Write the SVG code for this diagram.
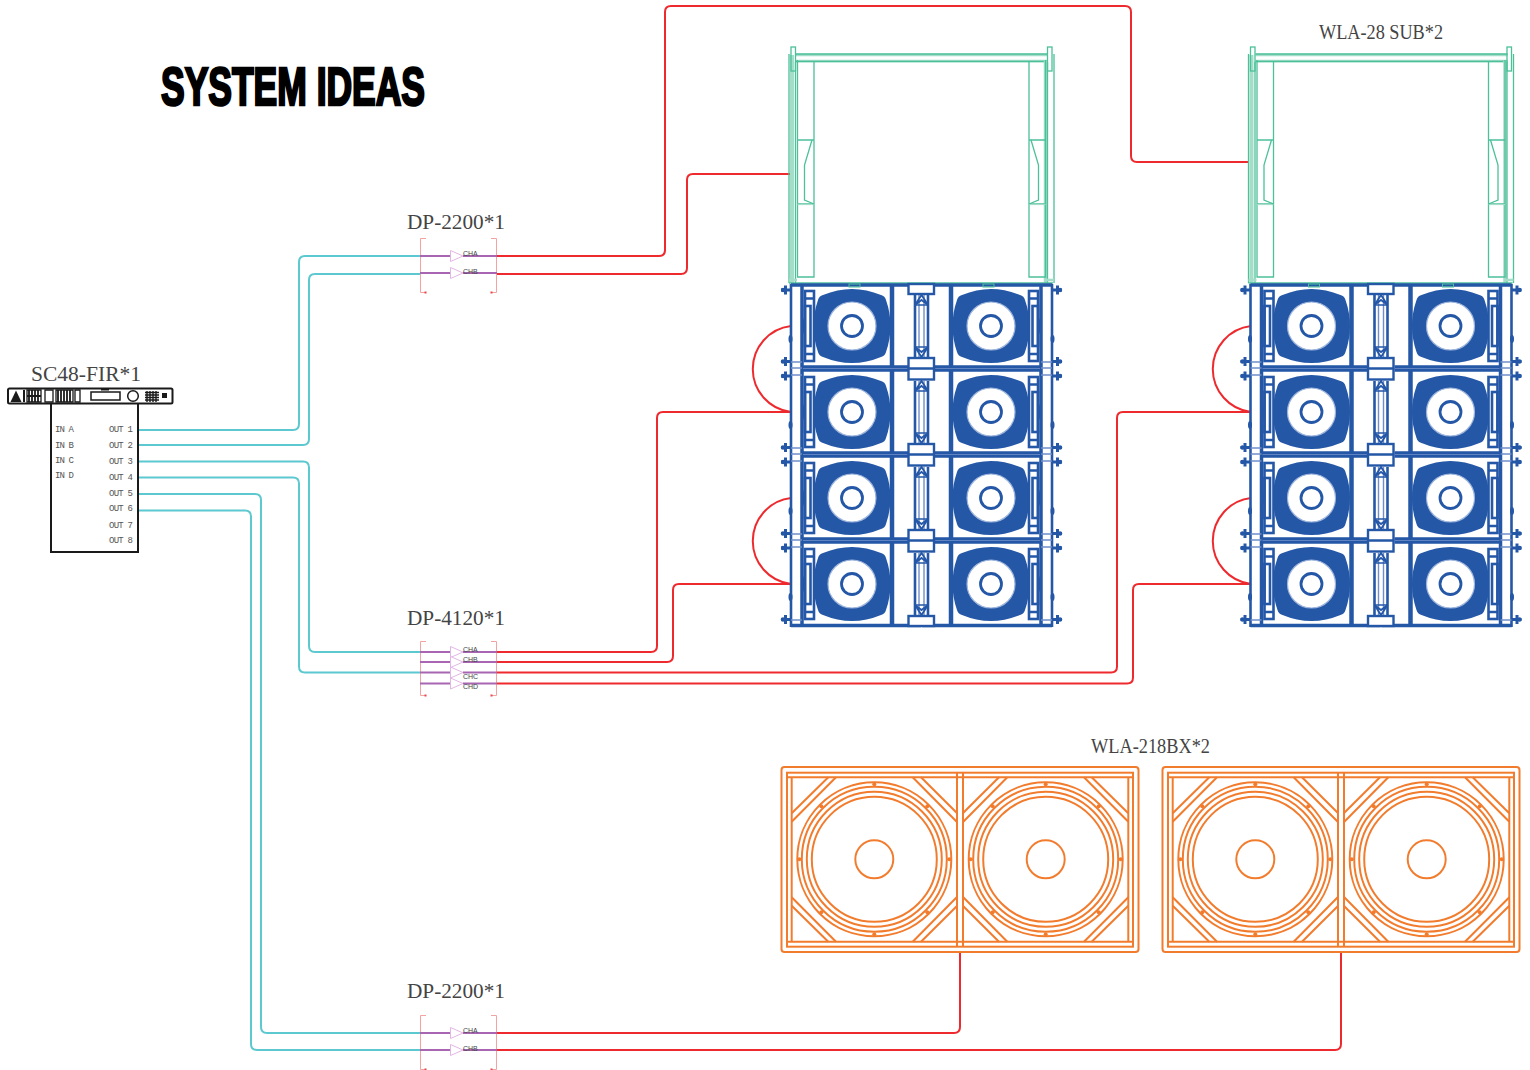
<svg xmlns="http://www.w3.org/2000/svg" xmlns:xlink="http://www.w3.org/1999/xlink" width="1530" height="1070" viewBox="0 0 1530 1070">
<style>
text{font-family:"Liberation Mono","DejaVu Sans Mono",monospace;fill:#3a3a3a}
.lab{font-family:"Liberation Serif","Times New Roman",serif;font-size:20px;fill:#444}
.port{font-size:9px;fill:#555}
.ch{font-family:"Liberation Sans",Arial,sans-serif;font-size:7px;fill:#444}
.title{font-family:"Liberation Sans",Arial,sans-serif;font-weight:700;font-size:53px;fill:#000;stroke:#000;stroke-width:2.6px}
.cy{fill:none;stroke:#5cc8cf;stroke-width:2}
.rd{fill:none;stroke:#ee2a2e;stroke-width:2}
.pu{fill:none;stroke:#a866b2;stroke-width:2}
.tri{fill:#fff;stroke:#e2b6e4;stroke-width:1}
.br{fill:none;stroke:#f4a3a3;stroke-width:1}
.dot{fill:#e8484a}
.g{fill:none;stroke:#4cc09a;stroke-width:1.3}
.gp{fill:none;stroke:#a6ddc9;stroke-width:2.6}
.b{fill:none;stroke:#2557a7;stroke-width:2.6}
.bt{fill:none;stroke:#2557a7;stroke-width:4.5}
.bp{fill:none;stroke:#6f8fc8;stroke-width:1.4}
.bf{fill:#2557a7}
.o{fill:none;stroke:#f27c2e;stroke-width:2}
.of{fill:#f27c2e}
.kf{fill:#1a1a1a}
</style>
<defs>
<g id="amp-bracket">
<path class="br" d="M426 0.5H420.500V54.500H426M491 0.5H496.500V54.500H491"/>
<rect class="dot" x="424.500" y="53.500" width="2" height="2"/>
<rect class="dot" x="490.500" y="53.500" width="2" height="2"/>
</g>
<g id="ch">
<path class="pu" d="M420 0H451M463 0H497"/>
<path class="tri" d="M450.500 -5.500L463 0L450.500 5.500Z"/>
</g>
<g id="sub-half">
<rect class="g" x="791" y="47" width="4.500" height="24"/>
<path class="g" d="M789 54V283M795.500 62V283M797.500 60V277H814V61"/>
<path class="g" d="M797.500 140H814M797.500 204H814"/>
<path class="gp" d="M797.500 204.500H814" style="stroke-width:1.200"/>
<path class="g" d="M812 140L804.500 165V200L814 204"/>
<path class="gp" d="M789 280H797"/>
</g>
<g id="sub">
<path class="gp" d="M796 55H1048M796 61H1048"/>
<path class="g" d="M796 54H1048M796 61.500H1048"/>
<path class="gp" d="M792 55V283" style="stroke-width:4"/>
<path class="gp" d="M1045.500 61V283" style="stroke-width:3.500"/>
<use xlink:href="#sub-half"/>
<use xlink:href="#sub-half" transform="matrix(-1 0 0 1 1843 0)"/>
<path class="g" d="M789 283H1053"/>
</g>
<g id="row">
<path class="bf" d="M-29 -31Q0 -43 29 -31Q33 -30 34 -26Q43 0 34 26Q33 30 29 31Q0 43 -29 31Q-33 30 -34 26Q-43 0 -34 -26Q-33 -30 -29 -31Z" transform="translate(852 326)"/>
<circle cx="852" cy="326" r="24" fill="#fff" stroke="#9db5dc" stroke-width="1.200"/>
<circle cx="852" cy="326" r="10.500" fill="#fff" stroke="#2557a7" stroke-width="2.800"/>
<rect class="b" x="805" y="291" width="9" height="70"/>
<rect class="b" x="805" y="306" width="5.500" height="40"/>
<path class="b" d="M805 298.500H814M805 354H814"/>
<ellipse class="bf" cx="790.500" cy="339" rx="2" ry="4"/>
<ellipse class="bf" cx="803" cy="326" rx="1.200" ry="8"/>
</g>
<g id="pin">
<path class="bt" style="stroke-width:3" d="M781 0H791M785.500 -4.500V4.500"/>
<circle class="bf" cx="783" cy="0" r="2.200"/>
</g>
<g id="blue-half">
<use xlink:href="#row"/>
<use xlink:href="#row" y="86"/>
<use xlink:href="#row" y="172"/>
<use xlink:href="#row" y="258"/>
<path class="b" d="M791 284V627"/>
<path class="bt" style="stroke-width:3.500" d="M802 284V627"/>
<path class="bt" d="M892 284V627"/>
<use xlink:href="#pin" y="290"/>
<use xlink:href="#pin" y="361.500"/>
<use xlink:href="#pin" y="376"/>
<use xlink:href="#pin" y="447.500"/>
<use xlink:href="#pin" y="462"/>
<use xlink:href="#pin" y="533.500"/>
<use xlink:href="#pin" y="548"/>
<use xlink:href="#pin" y="619.500"/>
<path class="bt" style="stroke-width:6.500" d="M802 368.500H908M802 454.500H908M802 540.500H908"/>
<path class="bp" d="M803 368.500H908M803 454.500H908M803 540.500H908" style="stroke-width:.8"/>
<path class="bt" style="stroke-width:3.500" d="M791 285H921M791 625.500H921"/>
<path class="bp" d="M791 362H802M791 368H802M791 375H802M791 448H802M791 454H802M791 461H802M791 534H802M791 540H802M791 547H802M791 620H802"/>
<rect x="849" y="284" width="11" height="3" fill="none" stroke="#4cc09a" stroke-width="1"/>
</g>
<g id="rail">
<path class="b" d="M915 1V63M928 1V63"/>
<path class="bp" d="M919 1V63M924 1V63"/>
<path class="b" d="M915 11L921.500 1L928 11L921.500 6ZM915 53L921.500 63L928 53L921.500 58Z" style="stroke-width:1.800"/>
<path class="b" d="M915 11H928M915 53H928" style="stroke-width:1.500"/>
</g>
<g id="blue">
<use xlink:href="#blue-half"/>
<use xlink:href="#blue-half" transform="matrix(-1 0 0 1 1843 0)"/>
<use xlink:href="#rail" y="294"/>
<use xlink:href="#rail" y="380"/>
<use xlink:href="#rail" y="466"/>
<use xlink:href="#rail" y="552"/>
<rect x="908.500" y="284" width="25.500" height="10" fill="#fff" stroke="#2557a7" stroke-width="2.400"/>
<rect x="908.500" y="358" width="25.500" height="21.500" fill="#fff" stroke="#2557a7" stroke-width="2.400"/>
<rect x="908.500" y="444" width="25.500" height="21.500" fill="#fff" stroke="#2557a7" stroke-width="2.400"/>
<rect x="908.500" y="530" width="25.500" height="21.500" fill="#fff" stroke="#2557a7" stroke-width="2.400"/>
<rect x="908.500" y="616" width="25.500" height="10" fill="#fff" stroke="#2557a7" stroke-width="2.400"/>
<path class="b" d="M908 368.500H934M908 454.500H934M908 540.500H934"/>
</g>
<g id="bx-half">
<circle class="o" cx="874.300" cy="859.300" r="77"/>
<circle class="o" cx="874.300" cy="859.300" r="72.500"/>
<circle class="o" cx="874.300" cy="859.300" r="67.500"/>
<circle class="o" cx="874.300" cy="859.300" r="62.500"/>
<circle class="o" cx="874.300" cy="859.300" r="19"/>
<circle class="of" cx="874.300" cy="784.300" r="2"/>
<circle class="of" cx="874.300" cy="934.300" r="2"/>
<circle class="of" cx="799.300" cy="859.300" r="2"/>
<circle class="of" cx="949.300" cy="859.300" r="2"/>
<circle class="of" cx="821.300" cy="806.300" r="2"/>
<circle class="of" cx="927.300" cy="806.300" r="2"/>
<circle class="of" cx="821.300" cy="912.300" r="2"/>
<circle class="of" cx="927.300" cy="912.300" r="2"/>
<path class="o" d="M791.700 813.300L828.300 777.300M791.700 821.700L836 777.300M912.700 777.300L956.700 821.700M921 777.300L956.700 812.700"/>
<path class="o" d="M791.700 905.700L828.300 941.700M791.700 897.300L836 941.700M912.700 941.700L956.700 897.300M921 941.700L956.700 906.300"/>
</g>
<g id="bx">
<rect class="o" x="781.500" y="767" width="357" height="185" rx="3"/>
<rect class="o" x="787" y="772.700" width="346" height="174"/>
<path class="o" d="M787 777.300H1133M787 941.700H1133M791.700 777.300V941.700M1128.300 777.300V941.700M957 772.700V946.700M963 772.700V946.700"/>
<use xlink:href="#bx-half"/>
<use xlink:href="#bx-half" transform="matrix(-1 0 0 1 1920 0)"/>
</g>
</defs>

<rect width="1530" height="1070" fill="#fff"/>
<text class="title" x="161" y="105" textLength="264" lengthAdjust="spacingAndGlyphs">SYSTEM IDEAS</text>

<g id="connectors">
<path class="cy" d="M138 430H293Q299 430 299 424V262Q299 256 305 256H420"/>
<path class="cy" d="M138 445H303Q309 445 309 439V280Q309 274 315 274H420"/>
<path class="cy" d="M138 461.500H303Q309 461.500 309 467.500V646Q309 652 315 652H420"/>
<path class="cy" d="M138 477.500H293Q299 477.500 299 483.500V666.500Q299 672.500 305 672.500H420"/>
<path class="cy" d="M138 494H255Q261 494 261 500V1027Q261 1033 267 1033H420"/>
<path class="cy" d="M138 510.500H245Q251 510.500 251 516.500V1044Q251 1050 257 1050H420"/>
<path class="rd" d="M497 256H659Q665 256 665 250V12Q665 6 671 6H1125Q1131 6 1131 12V156Q1131 162 1137 162H1249"/>
<path class="rd" d="M497 274H681Q687 274 687 268V180Q687 174 693 174H790"/>
<path class="rd" d="M497 652H651Q657 652 657 646V418Q657 412 663 412H791"/>
<path class="rd" d="M497 662H667Q673 662 673 656V590Q673 584 679 584H791"/>
<path class="rd" d="M497 672.500H1111Q1117 672.500 1117 666.500V418Q1117 412 1123 412H1251"/>
<path class="rd" d="M497 683.500H1127Q1133 683.500 1133 677.500V590Q1133 584 1139 584H1251"/>
<path class="rd" d="M497 1033H954Q960 1033 960 1027V952"/>
<path class="rd" d="M497 1050H1335Q1341 1050 1341 1044V952"/>
<path class="rd" d="M791 326A43.300 43.300 0 0 0 791 412"/>
<path class="rd" d="M791 498A43.300 43.300 0 0 0 791 584"/>
<path class="rd" d="M1251 326A43.300 43.300 0 0 0 1251 412"/>
<path class="rd" d="M1251 498A43.300 43.300 0 0 0 1251 584"/>
</g>

<g id="processor-SC48-FIR">
<text class="lab" x="31" y="381" textLength="110" lengthAdjust="spacingAndGlyphs">SC48-FIR*1</text>
<rect x="51" y="403" width="87" height="149" fill="#fff" stroke="#1a1a1a" stroke-width="2"/>
<rect x="8" y="388.500" width="164.500" height="15" rx="1.500" fill="#fff" stroke="#1a1a1a" stroke-width="2"/>
<path class="kf" d="M10.500 402L16 390.500L21.500 402Z"/>
<rect class="kf" x="23" y="390" width="2" height="12"/>
<path d="M27 390H41V402H27ZM45 390H53V402H45ZM56 390H73V402H56ZM75 390H80V402H75Z" fill="none" stroke="#1a1a1a" stroke-width="1.300"/>
<path d="M29 390V402M32 390V402M35 390V402M38 390V402M27 396H41M58 390V402M61 390V402M64 390V402M67 390V402M70 390V402" fill="none" stroke="#1a1a1a" stroke-width="1.800"/>
<rect x="91" y="392" width="29" height="8" fill="none" stroke="#1a1a1a" stroke-width="1.500"/>
<rect class="kf" x="101" y="389" width="8" height="1.500"/>
<circle cx="133" cy="396" r="5.300" fill="none" stroke="#1a1a1a" stroke-width="1.500"/>
<path d="M145 392.500H159M145 395H159M145 397.500H159M145 400H159M147 391V402M150 391V402M153 391V402M156 391V402" fill="none" stroke="#1a1a1a" stroke-width="1.400"/>
<rect class="kf" x="162" y="393" width="5" height="5"/>
<text class="port" x="55" y="432" textLength="19">IN A</text>
<text class="port" x="55" y="447.500" textLength="19">IN B</text>
<text class="port" x="55" y="462.500" textLength="19">IN C</text>
<text class="port" x="55" y="478" textLength="19">IN D</text>
<text class="port" x="109" y="432" textLength="24">OUT 1</text>
<text class="port" x="109" y="448" textLength="24">OUT 2</text>
<text class="port" x="109" y="464" textLength="24">OUT 3</text>
<text class="port" x="109" y="479.500" textLength="24">OUT 4</text>
<text class="port" x="109" y="495.500" textLength="24">OUT 5</text>
<text class="port" x="109" y="511" textLength="24">OUT 6</text>
<text class="port" x="109" y="527.500" textLength="24">OUT 7</text>
<text class="port" x="109" y="543" textLength="24">OUT 8</text>
</g>

<g id="amp-DP-2200-a">
<text class="lab" x="407" y="228.500" textLength="98" lengthAdjust="spacingAndGlyphs">DP-2200*1</text>
<use xlink:href="#amp-bracket" y="238"/>
<use xlink:href="#ch" y="256"/>
<use xlink:href="#ch" y="273"/>
<text class="ch" x="463" y="256">CHA</text>
<text class="ch" x="463" y="273.500">CHB</text>
</g>

<g id="amp-DP-4120">
<text class="lab" x="407" y="624.500" textLength="98" lengthAdjust="spacingAndGlyphs">DP-4120*1</text>
<use xlink:href="#amp-bracket" y="641"/>
<use xlink:href="#ch" y="652"/>
<use xlink:href="#ch" y="662"/>
<use xlink:href="#ch" y="672.500"/>
<use xlink:href="#ch" y="683.500"/>
<text class="ch" x="463" y="651.500">CHA</text>
<text class="ch" x="463" y="662">CHB</text>
<text class="ch" x="463" y="678.500">CHC</text>
<text class="ch" x="463" y="689">CHD</text>
</g>

<g id="amp-DP-2200-b">
<text class="lab" x="407" y="997.500" textLength="98" lengthAdjust="spacingAndGlyphs">DP-2200*1</text>
<use xlink:href="#amp-bracket" y="1015"/>
<use xlink:href="#ch" y="1033"/>
<use xlink:href="#ch" y="1050"/>
<text class="ch" x="463" y="1032.500">CHA</text>
<text class="ch" x="463" y="1050.500">CHB</text>
</g>

<g id="sub-WLA-28-a"><use xlink:href="#sub"/></g>
<g id="sub-WLA-28-b">
<use xlink:href="#sub" x="459.500"/>
<text class="lab" x="1319" y="38.500" textLength="124" lengthAdjust="spacingAndGlyphs">WLA-28 SUB*2</text>
</g>
<g id="array-a"><use xlink:href="#blue"/></g>
<g id="array-b"><use xlink:href="#blue" x="459.500"/></g>
<g id="bx-a">
<text class="lab" x="1091" y="752.500" textLength="119" lengthAdjust="spacingAndGlyphs">WLA-218BX*2</text>
<use xlink:href="#bx"/>
</g>
<g id="bx-b"><use xlink:href="#bx" x="381"/></g>
</svg>
